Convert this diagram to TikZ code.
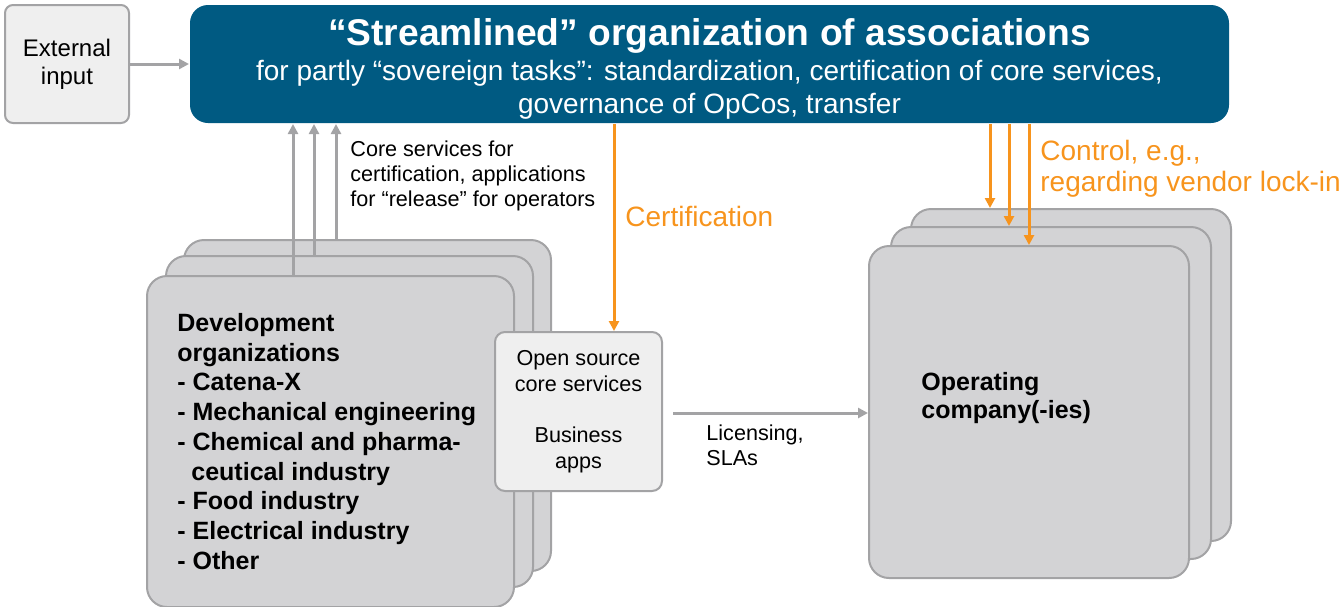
\documentclass[tikz,border=0pt]{standalone}
\usepackage{fontspec}
\setmainfont{Liberation Sans}
\usetikzlibrary{arrows.meta}
\definecolor{assocblue}{HTML}{005A82}
\definecolor{ctrlorange}{HTML}{F7941D}
\definecolor{linegray}{HTML}{A3A3A5}
\definecolor{cardgray}{HTML}{D3D3D5}
\definecolor{softgray}{HTML}{EFEFEF}
\tikzset{
  card/.style={draw=linegray, fill=cardgray, line width=1pt, rounded corners=10pt,
    anchor=north west, inner sep=0pt, minimum width=183.5pt, minimum height=165.5pt},
  opcard/.style={card, minimum width=160pt, minimum height=166pt},
  softbox/.style={draw=linegray, fill=softgray, line width=1pt, rounded corners=5pt,
    anchor=north west, inner sep=0pt, align=center},
  grayarrow/.style={draw=linegray, line width=1.5pt, -{Triangle[length=5pt,width=5pt]}},
  orangearrow/.style={draw=ctrlorange, line width=1.5pt, -{Triangle[length=5pt,width=5pt]}},
  note/.style={anchor=north west, inner sep=0pt, align=left, font=\fontsize{10.8}{12.5}\selectfont},
}
\begin{document}
\begin{tikzpicture}[x=0.5pt, y=-0.5pt]
  \useasboundingbox (0,0) rectangle (1342,606);

  \node[softbox, minimum width=62pt, minimum height=59pt, rounded corners=4pt,
    font=\fontsize{12}{14}\selectfont] (ext) at (4,4) {External\\input};
  \node[softbox, draw=none, fill=assocblue, text=white, minimum width=519.5pt, minimum height=59pt,
    rounded corners=9pt, font=\fontsize{14}{16.5}\selectfont] (title) at (189,4)
    {{\bfseries\fontsize{18.6}{20}\selectfont\rule{0pt}{18.6pt}“Streamlined” organization of associations}\\[1pt]
     for partly “sovereign tasks”: standardization, certification of core services,\\
     governance of OpCos, transfer};

  \node[card] (devC) at (183,239) {};
  \node[card] (devB) at (165,255) {};
  \node[card] (devA) at (146,275) {};
  \node[opcard] (opC) at (910,208) {};
  \node[opcard] (opB) at (890,226) {};
  \node[opcard] (opA) at (868,245) {};

  \node[anchor=north west, inner sep=0pt, align=left, font=\bfseries\fontsize{12.5}{14.85}\selectfont]
    (devtext) at (177,313) {Development\\organizations\\- Catena-X\\- Mechanical engineering\\
    - Chemical and pharma-\\\hspace*{7pt}ceutical industry\\- Food industry\\- Electrical industry\\- Other};
  \node[anchor=north west, inner sep=0pt, align=left, font=\bfseries\fontsize{12.5}{14}\selectfont]
    (optext) at (921,372) {Operating\\company(-ies)};

  \node[softbox, minimum width=83.5pt, minimum height=79.5pt, font=\fontsize{10.8}{12.8}\selectfont]
    (oss) at (494,331) {Open source\\core services\\[12.8pt]Business\\apps};

  \node[note] (corenote) at (350,140) {Core services for\\certification, applications\\for “release” for operators};
  \node[note, text=ctrlorange, font=\fontsize{14}{15.5}\selectfont] (certnote) at (625,206) {Certification};
  \node[note, text=ctrlorange, font=\fontsize{14}{15.5}\selectfont] (ctrlnote) at (1040,140)
    {Control, e.g.,\\regarding vendor lock-in};
  \node[note] (licnote) at (706,424) {Licensing,\\SLAs};

  \draw[grayarrow] (ext) -- (title);
  \foreach \card/\dx in {devA/73.5pt, devB/74.5pt, devC/76.5pt} {
    \coordinate (foot) at ([xshift=\dx]\card.north west);
    \draw[grayarrow] (foot) -- (foot |- title.south);
  }
  \foreach \card/\dx in {opC/40pt, opB/59.5pt, opA/80.5pt} {
    \coordinate (tip) at ([xshift=\dx]\card.north west);
    \draw[orangearrow] (tip |- title.south) -- (tip);
  }
  \coordinate (certtip) at ([xshift=60pt]oss.north west);
  \draw[orangearrow] (certtip |- title.south) -- (certtip);
  \coordinate (licstart) at (673,413);
  \draw[grayarrow] (licstart) -- (licstart -| opA.west);
\end{tikzpicture}
\end{document}
